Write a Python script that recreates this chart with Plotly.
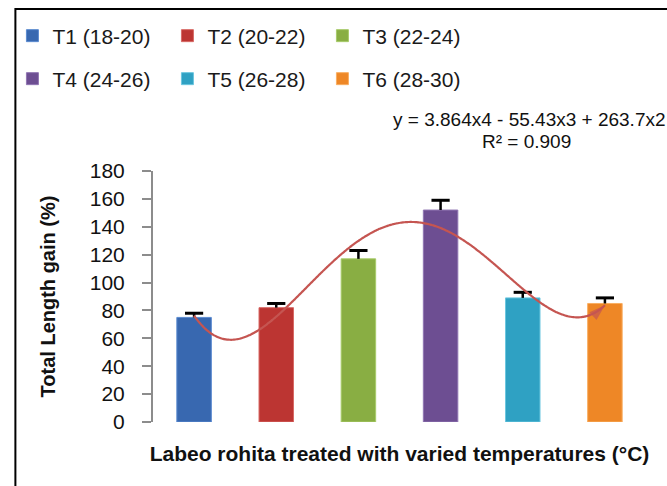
import numpy as np
import plotly.graph_objects as go

# ---- data ----
series_names = ["T1 (18-20)", "T2 (20-22)", "T3 (22-24)", "T4 (24-26)", "T5 (26-28)", "T6 (28-30)"]
positions = [1, 2, 3, 4, 5, 6]
values = [75, 82, 117, 152, 89, 85]
errors = [3, 3, 6, 7, 4, 4]
y_ticks = [0, 20, 40, 60, 80, 100, 120, 140, 160, 180]
equation_text = "y = 3.864x4 - 55.43x3 + 263.7x2"
r2_text = "R² = 0.909"
x_title = "Labeo rohita treated with varied temperatures (°C)"
y_title = "Total Length gain (%)"

# ---- styles ----
FONT = "Liberation Sans, Arial, sans-serif"
fill_colors = ["#3868B0", "#BC3532", "#89AE43", "#6D4E92", "#2FA1C3", "#EE8726"]
edge_colors = ["#5B8BD0", "#D86A66", "#A8CB6A", "#9176B3", "#6CC6DF", "#F9AE62"]
trend_color = "#C55551"
axis_gray = "#8C8C8C"

fig = go.Figure()

for i, name in enumerate(series_names):
    fig.add_trace(go.Bar(
        x=[positions[i]], y=[values[i]], name=name,
        width=0.42,
        marker=dict(color=fill_colors[i], line=dict(color=edge_colors[i], width=1)),
        legend="legend" if i < 3 else "legend2",
        hoverinfo="y",
    ))

# error bars (plus direction only, Excel style)
tops = [v + e for v, e in zip(values, errors)]
fig.add_trace(go.Scatter(
    x=positions, y=tops, mode="markers", showlegend=False, hoverinfo="skip",
    marker=dict(symbol="line-ew", size=13, line=dict(color="black", width=3)),
    error_y=dict(type="data", symmetric=False, array=[0] * len(errors),
                 arrayminus=errors, width=0, thickness=2.5, color="black"),
))

# polynomial (order 4) trendline of the bar values
coef = np.polyfit(positions, values, 4)
xs = np.linspace(positions[0], positions[-1], 300)
ys = np.polyval(coef, xs)
sizes = [0] * (len(xs) - 1) + [17]
fig.add_trace(go.Scatter(
    x=xs, y=ys, mode="lines+markers", showlegend=False, hoverinfo="skip",
    line=dict(color=trend_color, width=2.2, shape="spline"),
    marker=dict(symbol="arrow", size=sizes, angleref="previous", color=trend_color,
                line=dict(width=0)),
))

W, H = 667, 486
ML, MR, MT, MB = 148, 21, 171, 64
PW, PH = W - ML - MR, H - MT - MB

def px_x(p):
    return (p - ML) / PW

def px_y(p):
    return (H - MB - p) / PH

legend_common = dict(orientation="h", xanchor="left", yanchor="middle",
                     font=dict(size=21, family=FONT, color="#1a1a1a"),
                     entrywidth=110, entrywidthmode="pixels", itemclick=False,
                     itemdoubleclick=False, bgcolor="rgba(0,0,0,0)", traceorder="normal")

fig.update_layout(
    width=W, height=H,
    margin=dict(l=ML, r=MR, t=MT, b=MB, pad=0),
    paper_bgcolor="white", plot_bgcolor="white",
    barmode="overlay",
    font=dict(family=FONT, color="#111111"),
    showlegend=True,
    legend=dict(x=px_x(6), y=px_y(36), **legend_common),
    legend2=dict(x=px_x(6), y=px_y(79), **legend_common),
    xaxis=dict(range=[0.5, 6.5], showticklabels=False, ticks="", showgrid=False,
               zeroline=False, showline=False, fixedrange=True,
               title=dict(text="<b>" + x_title + "</b>", standoff=24,
                          font=dict(size=21, family=FONT, color="#111111"))),
    yaxis=dict(range=[0, 180], tickvals=y_ticks, ticks="outside", ticklen=9, tickwidth=2,
               tickcolor=axis_gray, showline=True, linecolor=axis_gray, linewidth=2,
               showgrid=False, zeroline=False, fixedrange=True,
               tickfont=dict(size=21, family=FONT, color="#111111"),
               ticklabelstandoff=13,
               title=dict(text="<b>" + y_title + "</b>", standoff=29,
                          font=dict(size=20, family=FONT, color="#111111"))),
    annotations=[
        dict(text=equation_text, xref="paper", yref="paper", x=px_x(528), y=px_y(119),
             xanchor="center", yanchor="middle", showarrow=False,
             font=dict(size=19, family=FONT, color="#111111")),
        dict(text=r2_text, xref="paper", yref="paper", x=px_x(525), y=px_y(141),
             xanchor="center", yanchor="middle", showarrow=False,
             font=dict(size=19, family=FONT, color="#111111")),
    ],
    shapes=[
        dict(type="rect", xref="paper", yref="paper", x0=px_x(9), x1=px_x(720),
             y0=px_y(540), y1=px_y(9), line=dict(color="black", width=2),
             fillcolor="rgba(0,0,0,0)", layer="above"),
    ],
)

fig.write_html("out.html")
